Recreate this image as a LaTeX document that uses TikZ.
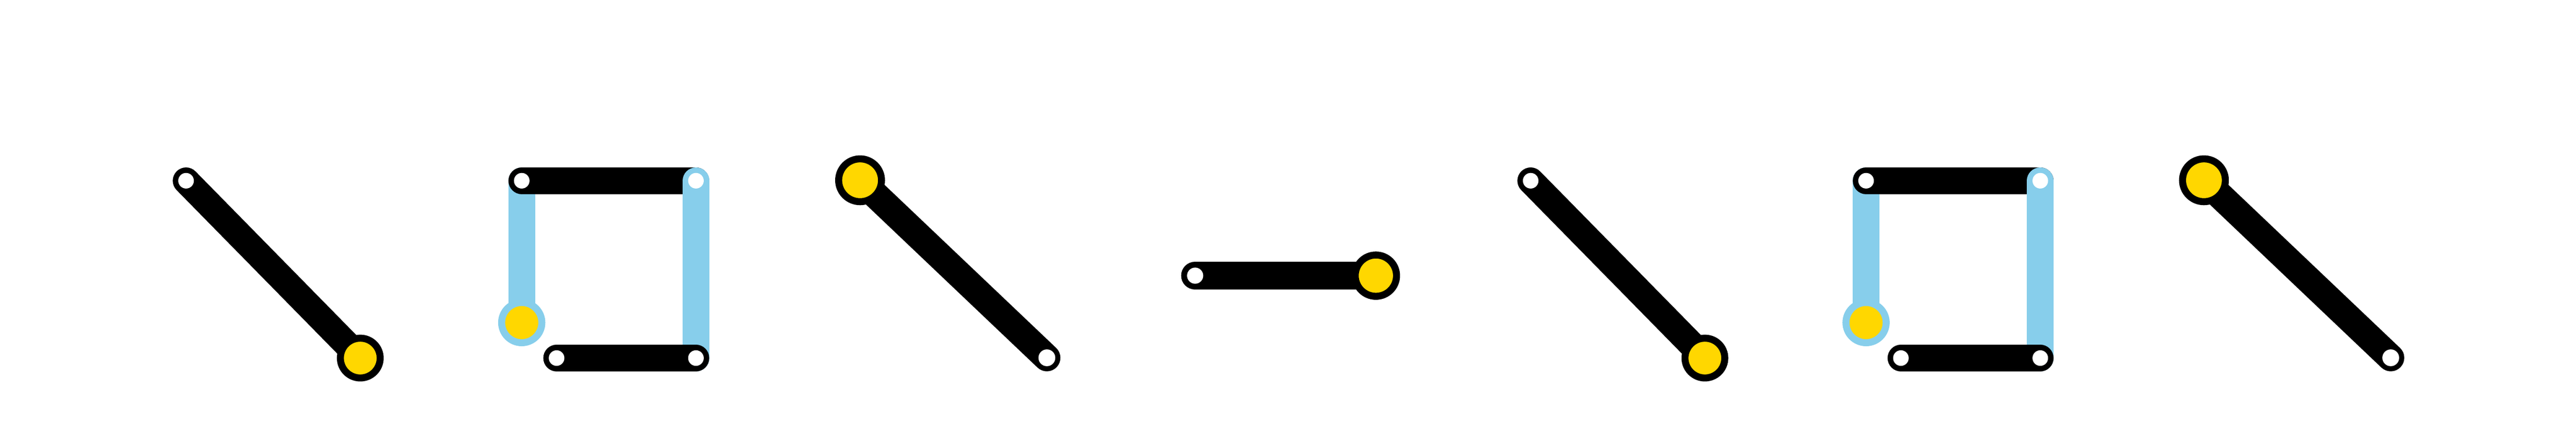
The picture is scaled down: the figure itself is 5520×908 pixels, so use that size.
\documentclass[tikz,border=0pt]{standalone}
\usetikzlibrary{backgrounds}
\definecolor{gold}{HTML}{FFD700}
\definecolor{sky}{HTML}{87CEEB}
\tikzset{
  wdot/.style={circle, fill=white, inner sep=0pt, outer sep=0pt, minimum size=#1},
  wdot/.default=33.4pt,
  ydot/.style 2 args={circle, fill=gold, draw=#2, inner sep=0pt, outer sep=0pt,
     line width=15pt, minimum size=#1},
  bbar/.style={draw=black, line width=#1, line cap=round},
  bbar/.default=57pt,
  sbar/.style={draw=sky, line width=57pt, line cap=round},
}
\begin{document}
\begin{tikzpicture}[x=1pt,y=-1pt]
\useasboundingbox (0,0) rectangle (5520,908);
% ---------- left group ----------
\node[wdot] (a1) at (398.7,387.3) {};
\node[ydot={85.3pt}{black}] (a2) at (772,767.3) {};
\node[wdot] (s1) at (1118,387.3) {};
\node[wdot] (s2) at (1491.3,387.3) {};
\node[ydot={86.2pt}{sky}] (sy) at (1118,691.3) {};
\node[wdot] (s3) at (1192.7,767.3) {};
\node[wdot] (s4) at (1491.3,767.3) {};
\node[ydot={91.8pt}{black}] (b1) at (1843,386.3) {};
\node[wdot=36pt] (b2) at (2243.3,766.7) {};
% ---------- middle ----------
\node[wdot=34.6pt] (m1) at (2561,590.7) {};
\node[ydot={88.5pt}{black}] (m2) at (2948.3,590.7) {};
% ---------- right group ----------
\node[wdot] (c1) at (3280,387.3) {};
\node[ydot={85.3pt}{black}] (c2) at (3653.3,767.3) {};
\node[wdot] (t1) at (3998.7,387.3) {};
\node[wdot] (t2) at (4372,387.3) {};
\node[ydot={86.2pt}{sky}] (ty) at (3998.7,691.3) {};
\node[wdot] (t3) at (4073.3,767.3) {};
\node[wdot] (t4) at (4372,767.3) {};
\node[ydot={91.8pt}{black}] (d1) at (4722.7,386.3) {};
\node[wdot=36pt] (d2) at (5123,766.7) {};
\begin{scope}[on background layer]
  \path[bbar] (a1.center) -- (a2.center);
  \path[sbar] (s1.center) -- (sy.center);
  \path[bbar] (s1.center) -- (s2.center);
  \path[sbar] (s2.center) -- (s4.center);
  \path[bbar] (s3.center) -- (s4.center);
  \path[bbar=58pt] (b1.center) -- (b2.center);
  \path[bbar=60pt] (m1.center) -- (m2.center);
  \path[bbar] (c1.center) -- (c2.center);
  \path[sbar] (t1.center) -- (ty.center);
  \path[bbar] (t1.center) -- (t2.center);
  \path[sbar] (t2.center) -- (t4.center);
  \path[bbar] (t3.center) -- (t4.center);
  \path[bbar=58pt] (d1.center) -- (d2.center);
\end{scope}
\end{tikzpicture}
\end{document}
